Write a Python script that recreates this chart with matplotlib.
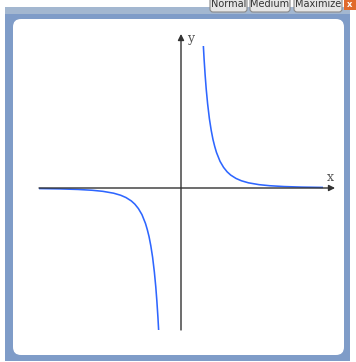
import matplotlib
matplotlib.use("Agg")
import matplotlib.pyplot as plt
from matplotlib.patches import Rectangle, FancyBboxPatch

# curve points (data units, 1 unit ~ 35.5 px)
right_x = [0.63, 0.65, 0.68, 0.71, 0.75, 0.8, 0.85, 0.9, 0.95, 1.0, 1.1, 1.2, 1.3,
           1.4, 1.55, 1.7, 1.9, 2.2, 2.5, 2.9, 3.4, 4.0]
right_y = [4.0, 3.64, 3.18, 2.79, 2.37, 1.95, 1.63, 1.37, 1.17, 1.0, 0.75, 0.58, 0.455,
           0.364, 0.269, 0.204, 0.146, 0.094, 0.064, 0.041, 0.025, 0.016]
left_x = [-4.0, -3.4, -2.9, -2.5, -2.2, -1.9, -1.7, -1.55, -1.4, -1.3, -1.2, -1.1,
          -1.0, -0.95, -0.9, -0.85, -0.8, -0.75, -0.71, -0.68, -0.65, -0.63]
left_y = [-0.016, -0.025, -0.041, -0.064, -0.094, -0.146, -0.204, -0.269, -0.364,
          -0.455, -0.58, -0.75, -1.0, -1.17, -1.37, -1.63, -1.95, -2.37, -2.79,
          -3.18, -3.64, -4.0]
buttons = ["Normal", "Medium", "Maximize"]

W, H = 356, 362
fig = plt.figure(figsize=(W / 100, H / 100), dpi=100)
fig.patch.set_facecolor("white")

# window chrome, drawn in pixel coordinates
bg = fig.add_axes([0, 0, 1, 1])
bg.set_xlim(0, W)
bg.set_ylim(H, 0)
bg.axis("off")
bg.add_patch(Rectangle((5, 7), 345, 354, color="#7f9cc8", lw=0))
bg.add_patch(Rectangle((5, 7), 345, 7, color="#a3b7d0", lw=0))
bg.add_patch(FancyBboxPatch((21, 27), 315, 320, boxstyle="round,pad=8",
                            fc="white", ec="none"))
bx = [(210, 37), (250, 40), (294, 48)]
for (x0, w), lab in zip(bx, buttons):
    bg.add_patch(FancyBboxPatch((x0 + 3, -4), w - 6, 13, boxstyle="round,pad=3",
                                fc="#e6e6e6", ec="#8a8a8a", lw=0.8))
    bg.text(x0 + w / 2, 4, lab, ha="center", va="center", fontsize=7, color="#333")
bg.add_patch(Rectangle((344, -2), 12, 12, color="#e06a2c", lw=0))
bg.text(349.5, 4.5, "x", ha="center", va="center", fontsize=6, color="white",
        fontweight="bold")

# plot area: origin at pixel (181, 188), unit 35.5 px
ax = fig.add_axes([39 / W, (H - 330) / H, 284 / W, 284 / H])
ax.set_xlim(-4, 4)
ax.set_ylim(-4, 4)
ax.axis("off")
ax.patch.set_alpha(0)

arrow = dict(arrowstyle="-|>", color="#333333", lw=1, mutation_scale=9,
             shrinkA=0, shrinkB=0)
ax.annotate("", xy=(4.34, 0), xytext=(-4, 0), arrowprops=arrow, annotation_clip=False)
ax.annotate("", xy=(0, 4.34), xytext=(0, -4), arrowprops=arrow, annotation_clip=False)
ax.text(0.17, 4.22, "y", fontsize=9, family="DejaVu Serif", color="#555",
        ha="left", va="center", clip_on=False)
ax.text(4.2, 0.3, "x", fontsize=9, family="DejaVu Serif", color="#555",
        ha="center", va="center", clip_on=False)

ax.plot(right_x, right_y, color="#2e66ff", lw=1.15, solid_capstyle="butt")
ax.plot(left_x, left_y, color="#2e66ff", lw=1.15, solid_capstyle="butt")

fig.savefig("out.png", dpi=100)
